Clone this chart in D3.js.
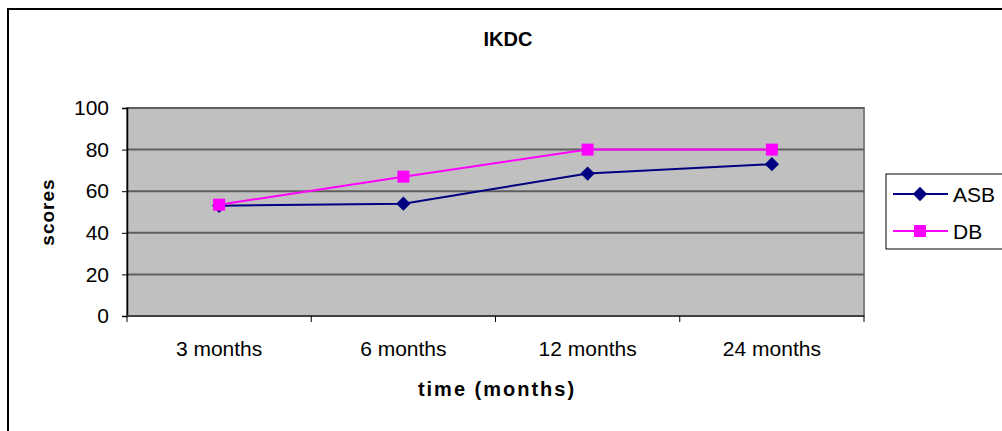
<!DOCTYPE html>
<html>
<head>
<meta charset="utf-8">
<script src="https://cdn.jsdelivr.net/npm/d3@7"></script>
<style>
  html, body { margin: 0; padding: 0; background: #fff; }
  svg { display: block; font-family: Arial, "Liberation Sans", sans-serif; }
</style>
</head>
<body>
<svg id="chart" width="1002" height="431"></svg>
<script>
// IKDC scores over follow-up time
const categories = ["3 months", "6 months", "12 months", "24 months"];
const asbScores = [53, 54, 68.5, 73];
const dbScores = [53.5, 67, 80, 80];
const yTicks = [0, 20, 40, 60, 80, 100];

const svg = d3.select("#chart");
const W = 1002, H = 431;
const plot = { left: 127, right: 864, top: 108, bottom: 316 };

// outer frame (open to the right and bottom)
svg.append("rect")
  .attr("x", 8).attr("y", 9)
  .attr("width", W + 20).attr("height", H + 20)
  .attr("fill", "#fff").attr("stroke", "#000").attr("stroke-width", 2);

const x = d3.scaleBand().domain(categories).range([plot.left, plot.right]).padding(0);
const y = d3.scaleLinear().domain([0, 100]).range([plot.bottom, plot.top]);

// plot background
svg.append("rect")
  .attr("x", plot.left).attr("y", plot.top)
  .attr("width", plot.right - plot.left).attr("height", plot.bottom - plot.top)
  .attr("fill", "#c0c0c0").attr("stroke", "#808080").attr("stroke-width", 2);

// horizontal gridlines
svg.append("g").selectAll("line")
  .data(yTicks.filter(d => d > 0))
  .join("line")
  .attr("x1", plot.left).attr("x2", plot.right)
  .attr("y1", d => y(d)).attr("y2", d => y(d))
  .attr("stroke", "#5f5f5f").attr("stroke-width", 2);

// y axis
const yAxis = svg.append("g")
  .attr("transform", `translate(${plot.left},0)`)
  .call(d3.axisLeft(y).tickValues(yTicks).tickSize(5).tickPadding(13));
yAxis.select(".domain").attr("stroke", "#000").attr("stroke-width", 1.5);
yAxis.selectAll(".tick line").attr("stroke", "#000");
yAxis.selectAll("text").attr("font-size", 21).attr("fill", "#000")
  .attr("font-family", "Arial, 'Liberation Sans', sans-serif");

// x axis: ticks sit on category boundaries
const xAxis = svg.append("g")
  .attr("transform", `translate(0,${plot.bottom})`);
xAxis.append("line")
  .attr("x1", plot.left).attr("x2", plot.right)
  .attr("y1", 0).attr("y2", 0)
  .attr("stroke", "#404040").attr("stroke-width", 2);
const bounds = categories.map(c => x(c)).concat([x(categories[categories.length - 1]) + x.bandwidth()]);
xAxis.selectAll("line.tk").data(bounds).join("line")
  .attr("class", "tk")
  .attr("x1", d => d).attr("x2", d => d)
  .attr("y1", 0).attr("y2", 6)
  .attr("stroke", "#000");
xAxis.selectAll("text").data(categories).join("text")
  .attr("x", d => x(d) + x.bandwidth() / 2)
  .attr("y", 40)
  .attr("text-anchor", "middle")
  .attr("font-size", 21)
  .text(d => d);

// titles
svg.append("text")
  .attr("x", 508).attr("y", 46)
  .attr("text-anchor", "middle")
  .attr("font-size", 20).attr("font-weight", "bold")
  .text("IKDC");
svg.append("text")
  .attr("x", 497).attr("y", 396)
  .attr("text-anchor", "middle")
  .attr("font-size", 20).attr("font-weight", "bold")
  .attr("letter-spacing", 2)
  .text("time (months)");
svg.append("text")
  .attr("transform", `translate(54,${(plot.top + plot.bottom) / 2}) rotate(-90)`)
  .attr("text-anchor", "middle")
  .attr("font-size", 19).attr("font-weight", "bold")
  .attr("letter-spacing", 1)
  .text("scores");

const cx = d => x(d) + x.bandwidth() / 2;
const line = d3.line().x(d => cx(d.c)).y(d => y(d.v));
const asb = categories.map((c, i) => ({ c, v: asbScores[i] }));
const db = categories.map((c, i) => ({ c, v: dbScores[i] }));

const ASB_COLOR = "#000080", DB_COLOR = "#ff00ff";
const diamond = d3.symbol().type(d3.symbolDiamond2).size(130);
const square = d3.symbol().type(d3.symbolSquare).size(144);

// ASB series
svg.append("path").datum(asb).attr("d", line)
  .attr("fill", "none").attr("stroke", ASB_COLOR).attr("stroke-width", 2);
svg.append("g").selectAll("path").data(asb).join("path")
  .attr("transform", d => `translate(${cx(d.c)},${y(d.v)})`)
  .attr("d", diamond).attr("fill", ASB_COLOR);

// DB series
svg.append("path").datum(db).attr("d", line)
  .attr("fill", "none").attr("stroke", DB_COLOR).attr("stroke-width", 2);
svg.append("g").selectAll("path").data(db).join("path")
  .attr("transform", d => `translate(${cx(d.c)},${y(d.v)})`)
  .attr("d", square).attr("fill", DB_COLOR);

// legend
const legend = svg.append("g");
legend.append("rect")
  .attr("x", 886).attr("y", 174).attr("width", 130).attr("height", 75)
  .attr("fill", "#fff").attr("stroke", "#000").attr("stroke-width", 1);
const entries = [
  { name: "ASB", color: ASB_COLOR, sym: diamond, y: 194 },
  { name: "DB", color: DB_COLOR, sym: square, y: 231 }
];
entries.forEach(e => {
  legend.append("line")
    .attr("x1", 893).attr("x2", 948).attr("y1", e.y).attr("y2", e.y)
    .attr("stroke", e.color).attr("stroke-width", 2);
  legend.append("path")
    .attr("transform", `translate(920,${e.y})`)
    .attr("d", e.sym).attr("fill", e.color);
  legend.append("text")
    .attr("x", 953).attr("y", e.y + 8)
    .attr("font-size", 21)
    .text(e.name);
});
</script>
</body>
</html>
